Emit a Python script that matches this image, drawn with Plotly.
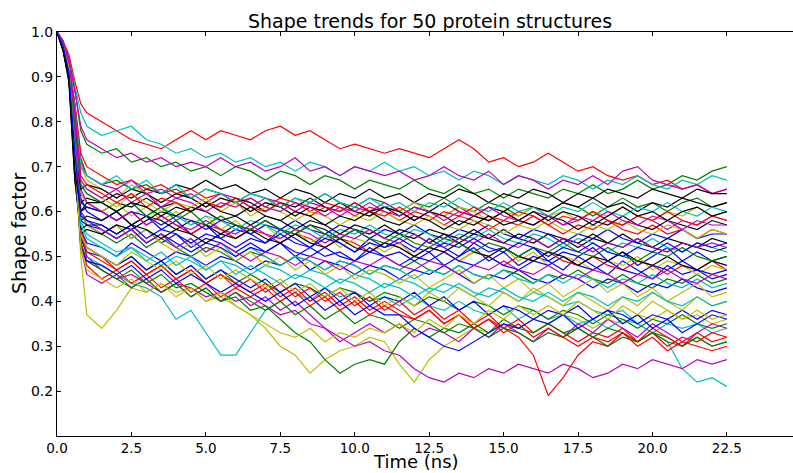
import plotly.graph_objects as go

# Time axis (ns) shared by all structures
time_ns = [0, 0.2, 0.4, 0.6, 0.8, 1.0, 1.5, 2.0, 2.5, 3.0, 3.5, 4.0, 4.5, 5.0, 5.5, 6.0,
           6.5, 7.0, 7.5, 8.0, 8.5, 9.0, 9.5, 10.0, 10.5, 11.0, 11.5, 12.0, 12.5, 13.0,
           13.5, 14.0, 14.5, 15.0, 15.5, 16.0, 16.5, 17.0, 17.5, 18.0, 18.5, 19.0, 19.5,
           20.0, 20.5, 21.0, 21.5, 22.0, 22.5]

blue_1 = [1.0, 0.97, 0.92, 0.78, 0.63, 0.60,
          0.58, 0.60, 0.57, 0.59, 0.56, 0.58, 0.55, 0.57, 0.54, 0.56,
          0.55, 0.53, 0.56, 0.54, 0.52, 0.55, 0.53, 0.51, 0.54, 0.52,
          0.53, 0.51, 0.54, 0.52, 0.50, 0.53, 0.51, 0.52, 0.50, 0.52,
          0.49, 0.51, 0.50, 0.52, 0.49, 0.51, 0.48, 0.50, 0.52, 0.49,
          0.51, 0.49, 0.50]
green_1 = [1.0, 0.98, 0.94, 0.87, 0.78, 0.75,
           0.73, 0.74, 0.71, 0.72, 0.70, 0.71, 0.69, 0.70, 0.68, 0.70,
           0.69, 0.67, 0.69, 0.68, 0.66, 0.68, 0.67, 0.65, 0.67, 0.66,
           0.65, 0.67, 0.65, 0.64, 0.66, 0.64, 0.65, 0.63, 0.65, 0.64,
           0.63, 0.65, 0.64, 0.66, 0.64, 0.65, 0.67, 0.65, 0.66, 0.68,
           0.67, 0.69, 0.70]
red_1 = [1.0, 0.98, 0.95, 0.89, 0.84, 0.82,
         0.80, 0.78, 0.76, 0.75, 0.74, 0.76, 0.78, 0.76, 0.78, 0.77,
         0.76, 0.78, 0.79, 0.77, 0.78, 0.76, 0.74, 0.75, 0.74, 0.73,
         0.74, 0.73, 0.72, 0.74, 0.76, 0.74, 0.71, 0.72, 0.70, 0.71,
         0.73, 0.71, 0.69, 0.70, 0.68, 0.67, 0.68, 0.66, 0.67, 0.65,
         0.66, 0.64, 0.65]
cyan_1 = [1.0, 0.98, 0.94, 0.88, 0.82, 0.79,
          0.77, 0.78, 0.79, 0.76, 0.75, 0.73, 0.74, 0.72, 0.73, 0.71,
          0.72, 0.70, 0.71, 0.69, 0.71, 0.70, 0.68, 0.70, 0.69, 0.71,
          0.69, 0.70, 0.68, 0.69, 0.67, 0.69, 0.68, 0.66, 0.68, 0.67,
          0.66, 0.68, 0.67, 0.65, 0.67, 0.66, 0.68, 0.66, 0.65, 0.67,
          0.66, 0.68, 0.67]
magenta_1 = [1.0, 0.98, 0.94, 0.87, 0.79, 0.76,
             0.74, 0.72, 0.73, 0.71, 0.72, 0.70, 0.71, 0.70, 0.72, 0.70,
             0.71, 0.69, 0.70, 0.72, 0.69, 0.70, 0.68, 0.70, 0.69, 0.68,
             0.69, 0.67, 0.68, 0.70, 0.68, 0.67, 0.69, 0.66, 0.68, 0.67,
             0.65, 0.67, 0.66, 0.68, 0.66, 0.69, 0.70, 0.67, 0.66, 0.65,
             0.66, 0.64, 0.65]
yellow_1 = [1.0, 0.96, 0.90, 0.72, 0.50, 0.37,
            0.34, 0.38, 0.43, 0.42, 0.44, 0.42, 0.43, 0.40, 0.41, 0.39,
            0.37, 0.34, 0.30, 0.28, 0.24, 0.27, 0.29, 0.30, 0.32, 0.31,
            0.26, 0.22, 0.27, 0.30, 0.32, 0.34, 0.33, 0.35, 0.34, 0.36,
            0.35, 0.37, 0.36, 0.34, 0.36, 0.35, 0.37, 0.36, 0.38, 0.36,
            0.37, 0.35, 0.36]
black_1 = [1.0, 0.97, 0.91, 0.72, 0.62, 0.63,
           0.62, 0.64, 0.63, 0.65, 0.64, 0.66, 0.65, 0.67, 0.65, 0.66,
           0.64, 0.65, 0.63, 0.65, 0.64, 0.62, 0.64, 0.63, 0.65, 0.63,
           0.64, 0.62, 0.64, 0.63, 0.65, 0.64, 0.62, 0.64, 0.63, 0.65,
           0.64, 0.62, 0.64, 0.63, 0.65, 0.64, 0.63, 0.65, 0.64, 0.63,
           0.65, 0.64, 0.64]

blue_2 = [1.0, 0.97, 0.92, 0.76, 0.60, 0.57,
          0.55, 0.57, 0.54, 0.56, 0.53, 0.55, 0.52, 0.54, 0.53, 0.51,
          0.53, 0.51, 0.53, 0.50, 0.52, 0.50, 0.51, 0.49, 0.52, 0.50,
          0.51, 0.49, 0.51, 0.48, 0.50, 0.52, 0.49, 0.51, 0.48, 0.50,
          0.49, 0.47, 0.50, 0.48, 0.46, 0.49, 0.47, 0.45, 0.48, 0.46,
          0.47, 0.45, 0.46]
green_2 = [1.0, 0.97, 0.93, 0.84, 0.72, 0.68,
           0.66, 0.67, 0.65, 0.66, 0.64, 0.65, 0.63, 0.65, 0.64, 0.62,
           0.64, 0.63, 0.61, 0.63, 0.62, 0.64, 0.62, 0.61, 0.63, 0.62,
           0.60, 0.62, 0.61, 0.63, 0.61, 0.60, 0.62, 0.61, 0.59, 0.61,
           0.60, 0.62, 0.61, 0.59, 0.61, 0.63, 0.61, 0.62, 0.60, 0.62,
           0.63, 0.61, 0.62]
red_2 = [1.0, 0.98, 0.93, 0.84, 0.73, 0.70,
         0.68, 0.66, 0.67, 0.65, 0.66, 0.64, 0.65, 0.63, 0.64, 0.62,
         0.63, 0.61, 0.63, 0.62, 0.60, 0.62, 0.61, 0.59, 0.61, 0.60,
         0.58, 0.60, 0.59, 0.57, 0.59, 0.58, 0.56, 0.58, 0.57, 0.59,
         0.57, 0.55, 0.57, 0.56, 0.58, 0.56, 0.55, 0.57, 0.55, 0.56,
         0.54, 0.56, 0.55]
cyan_2 = [1.0, 0.97, 0.92, 0.74, 0.55, 0.50,
          0.48, 0.46, 0.44, 0.43, 0.41, 0.36, 0.38, 0.33, 0.28, 0.28,
          0.33, 0.38, 0.40, 0.42, 0.40, 0.43, 0.41, 0.42, 0.40, 0.41,
          0.39, 0.41, 0.39, 0.38, 0.40, 0.38, 0.37, 0.39, 0.36, 0.38,
          0.36, 0.37, 0.35, 0.36, 0.34, 0.36, 0.35, 0.33, 0.35, 0.34,
          0.35, 0.33, 0.34]
magenta_2 = [1.0, 0.98, 0.93, 0.83, 0.71, 0.68,
             0.66, 0.65, 0.67, 0.64, 0.65, 0.63, 0.64, 0.62, 0.64, 0.63,
             0.61, 0.63, 0.62, 0.60, 0.62, 0.61, 0.59, 0.61, 0.60, 0.62,
             0.60, 0.58, 0.60, 0.59, 0.61, 0.59, 0.58, 0.60, 0.58, 0.57,
             0.59, 0.57, 0.58, 0.60, 0.58, 0.57, 0.59, 0.58, 0.56, 0.58,
             0.57, 0.59, 0.58]
yellow_2 = [1.0, 0.97, 0.93, 0.82, 0.70, 0.67,
            0.65, 0.63, 0.66, 0.64, 0.62, 0.64, 0.63, 0.61, 0.63, 0.62,
            0.60, 0.62, 0.61, 0.63, 0.61, 0.60, 0.62, 0.60, 0.59, 0.61,
            0.60, 0.62, 0.60, 0.59, 0.61, 0.60, 0.58, 0.60, 0.59, 0.61,
            0.59, 0.60, 0.58, 0.60, 0.59, 0.61, 0.59, 0.58, 0.60, 0.59,
            0.61, 0.59, 0.60]
black_2 = [1.0, 0.97, 0.90, 0.70, 0.60, 0.61,
           0.60, 0.62, 0.61, 0.63, 0.61, 0.62, 0.60, 0.62, 0.61, 0.63,
           0.62, 0.60, 0.62, 0.61, 0.63, 0.61, 0.60, 0.62, 0.60, 0.61,
           0.59, 0.61, 0.60, 0.62, 0.60, 0.59, 0.61, 0.60, 0.62, 0.61,
           0.60, 0.62, 0.61, 0.63, 0.61, 0.62, 0.60, 0.62, 0.61, 0.63,
           0.62, 0.61, 0.62]

blue_3 = [1.0, 0.97, 0.92, 0.74, 0.56, 0.53,
          0.52, 0.50, 0.53, 0.51, 0.49, 0.51, 0.50, 0.48, 0.50, 0.49,
          0.47, 0.49, 0.48, 0.50, 0.47, 0.49, 0.48, 0.46, 0.48, 0.47,
          0.45, 0.47, 0.46, 0.48, 0.46, 0.44, 0.46, 0.45, 0.47, 0.45,
          0.44, 0.46, 0.45, 0.43, 0.45, 0.44, 0.42, 0.44, 0.43, 0.45,
          0.43, 0.42, 0.43]
green_3 = [1.0, 0.97, 0.92, 0.77, 0.60, 0.57,
           0.55, 0.53, 0.55, 0.52, 0.54, 0.52, 0.50, 0.52, 0.51, 0.49,
           0.51, 0.50, 0.48, 0.50, 0.49, 0.47, 0.49, 0.48, 0.46, 0.48,
           0.47, 0.49, 0.47, 0.46, 0.48, 0.46, 0.45, 0.47, 0.46, 0.44,
           0.46, 0.45, 0.47, 0.45, 0.44, 0.46, 0.44, 0.43, 0.45, 0.44,
           0.46, 0.44, 0.45]
red_3 = [1.0, 0.98, 0.93, 0.80, 0.64, 0.62,
         0.60, 0.58, 0.60, 0.57, 0.59, 0.57, 0.55, 0.57, 0.56, 0.54,
         0.56, 0.55, 0.53, 0.55, 0.54, 0.52, 0.54, 0.53, 0.51, 0.53,
         0.52, 0.50, 0.52, 0.51, 0.49, 0.51, 0.50, 0.48, 0.50, 0.49,
         0.51, 0.49, 0.48, 0.50, 0.48, 0.47, 0.49, 0.48, 0.46, 0.48,
         0.47, 0.49, 0.47]
cyan_3 = [1.0, 0.97, 0.92, 0.76, 0.58, 0.55,
          0.53, 0.51, 0.52, 0.50, 0.48, 0.50, 0.49, 0.47, 0.49, 0.48,
          0.46, 0.48, 0.47, 0.45, 0.47, 0.46, 0.44, 0.46, 0.45, 0.43,
          0.45, 0.44, 0.42, 0.44, 0.43, 0.41, 0.43, 0.42, 0.40, 0.42,
          0.41, 0.39, 0.40, 0.38, 0.37, 0.38, 0.35, 0.33, 0.31, 0.25,
          0.22, 0.23, 0.21]
magenta_3 = [1.0, 0.97, 0.92, 0.74, 0.55, 0.50,
             0.47, 0.45, 0.46, 0.44, 0.42, 0.44, 0.43, 0.41, 0.42, 0.40,
             0.41, 0.39, 0.37, 0.38, 0.35, 0.34, 0.32, 0.30, 0.31, 0.29,
             0.28, 0.25, 0.23, 0.22, 0.24, 0.23, 0.25, 0.24, 0.26, 0.25,
             0.24, 0.26, 0.25, 0.23, 0.24, 0.26, 0.25, 0.27, 0.26, 0.25,
             0.27, 0.26, 0.27]
yellow_3 = [1.0, 0.97, 0.93, 0.80, 0.64, 0.62,
            0.60, 0.62, 0.59, 0.61, 0.58, 0.60, 0.57, 0.59, 0.56, 0.58,
            0.55, 0.57, 0.54, 0.56, 0.53, 0.55, 0.52, 0.54, 0.53, 0.51,
            0.53, 0.50, 0.52, 0.51, 0.49, 0.51, 0.50, 0.52, 0.49, 0.51,
            0.48, 0.50, 0.49, 0.47, 0.49, 0.48, 0.50, 0.47, 0.49, 0.48,
            0.46, 0.48, 0.47]
black_3 = [1.0, 0.97, 0.90, 0.69, 0.58, 0.59,
           0.58, 0.60, 0.57, 0.59, 0.58, 0.56, 0.58, 0.57, 0.55, 0.57,
           0.56, 0.58, 0.56, 0.55, 0.57, 0.56, 0.54, 0.56, 0.55, 0.57,
           0.55, 0.54, 0.56, 0.55, 0.53, 0.55, 0.54, 0.56, 0.54, 0.53,
           0.55, 0.54, 0.52, 0.54, 0.53, 0.55, 0.53, 0.52, 0.54, 0.53,
           0.52, 0.54, 0.53]

blue_4 = [1.0, 0.97, 0.91, 0.74, 0.62, 0.61,
          0.60, 0.58, 0.60, 0.59, 0.57, 0.59, 0.58, 0.56, 0.58, 0.57,
          0.55, 0.57, 0.56, 0.58, 0.56, 0.55, 0.57, 0.56, 0.54, 0.56,
          0.55, 0.57, 0.55, 0.54, 0.56, 0.55, 0.57, 0.55, 0.54, 0.56,
          0.55, 0.53, 0.55, 0.54, 0.56, 0.54, 0.53, 0.55, 0.54, 0.56,
          0.54, 0.55, 0.55]
green_4 = [1.0, 0.97, 0.92, 0.74, 0.55, 0.52,
           0.50, 0.48, 0.50, 0.47, 0.49, 0.46, 0.48, 0.45, 0.47, 0.44,
           0.46, 0.44, 0.42, 0.44, 0.43, 0.41, 0.43, 0.42, 0.40, 0.42,
           0.41, 0.39, 0.41, 0.40, 0.38, 0.40, 0.39, 0.37, 0.39, 0.38,
           0.36, 0.38, 0.37, 0.35, 0.37, 0.36, 0.34, 0.36, 0.35, 0.37,
           0.35, 0.34, 0.35]
red_4 = [1.0, 0.97, 0.92, 0.75, 0.56, 0.52,
         0.50, 0.47, 0.49, 0.46, 0.48, 0.45, 0.47, 0.44, 0.46, 0.44,
         0.42, 0.44, 0.41, 0.43, 0.40, 0.42, 0.39, 0.41, 0.38, 0.40,
         0.38, 0.36, 0.38, 0.35, 0.37, 0.34, 0.36, 0.34, 0.36, 0.33,
         0.35, 0.33, 0.31, 0.33, 0.32, 0.34, 0.31, 0.33, 0.30, 0.32,
         0.31, 0.33, 0.32]
cyan_4 = [1.0, 0.98, 0.93, 0.81, 0.66, 0.64,
          0.62, 0.60, 0.62, 0.59, 0.61, 0.59, 0.57, 0.59, 0.58, 0.56,
          0.58, 0.57, 0.55, 0.57, 0.56, 0.54, 0.56, 0.55, 0.57, 0.55,
          0.54, 0.56, 0.55, 0.53, 0.55, 0.54, 0.56, 0.54, 0.53, 0.55,
          0.54, 0.52, 0.54, 0.53, 0.51, 0.53, 0.52, 0.54, 0.52, 0.51,
          0.53, 0.52, 0.51]
magenta_4 = [1.0, 0.97, 0.92, 0.73, 0.52, 0.46,
             0.44, 0.46, 0.43, 0.45, 0.42, 0.44, 0.41, 0.43, 0.40, 0.42,
             0.39, 0.41, 0.38, 0.40, 0.37, 0.34, 0.31, 0.33, 0.35, 0.33,
             0.35, 0.32, 0.34, 0.33, 0.31, 0.34, 0.32, 0.35, 0.33, 0.31,
             0.34, 0.32, 0.35, 0.33, 0.36, 0.34, 0.32, 0.35, 0.33, 0.31,
             0.33, 0.35, 0.34]
yellow_4 = [1.0, 0.97, 0.92, 0.77, 0.60, 0.57,
            0.55, 0.57, 0.54, 0.56, 0.53, 0.51, 0.53, 0.50, 0.52, 0.49,
            0.51, 0.48, 0.50, 0.47, 0.49, 0.46, 0.48, 0.45, 0.47, 0.46,
            0.44, 0.46, 0.43, 0.45, 0.47, 0.44, 0.46, 0.43, 0.45, 0.42,
            0.44, 0.41, 0.43, 0.45, 0.42, 0.44, 0.41, 0.43, 0.40, 0.42,
            0.44, 0.41, 0.42]
black_4 = [1.0, 0.96, 0.89, 0.67, 0.55, 0.56,
           0.55, 0.57, 0.56, 0.58, 0.60, 0.59, 0.61, 0.60, 0.58, 0.59,
           0.57, 0.59, 0.58, 0.56, 0.58, 0.57, 0.55, 0.57, 0.56, 0.54,
           0.56, 0.55, 0.53, 0.55, 0.54, 0.56, 0.54, 0.53, 0.55, 0.54,
           0.52, 0.54, 0.53, 0.55, 0.53, 0.52, 0.54, 0.52, 0.51, 0.53,
           0.52, 0.51, 0.52]

blue_5 = [1.0, 0.97, 0.92, 0.73, 0.54, 0.51,
          0.50, 0.48, 0.50, 0.47, 0.49, 0.46, 0.48, 0.45, 0.47, 0.45,
          0.43, 0.45, 0.42, 0.44, 0.41, 0.43, 0.40, 0.42, 0.39, 0.41,
          0.40, 0.42, 0.39, 0.41, 0.38, 0.40, 0.37, 0.39, 0.38, 0.36,
          0.38, 0.37, 0.39, 0.36, 0.38, 0.37, 0.35, 0.37, 0.36, 0.38,
          0.36, 0.38, 0.37]
green_5 = [1.0, 0.97, 0.92, 0.73, 0.53, 0.49,
           0.47, 0.45, 0.47, 0.44, 0.46, 0.43, 0.44, 0.42, 0.40, 0.41,
           0.38, 0.39, 0.36, 0.33, 0.31, 0.27, 0.24, 0.26, 0.27, 0.26,
           0.31, 0.34, 0.32, 0.34, 0.33, 0.35, 0.33, 0.36, 0.34, 0.33,
           0.35, 0.33, 0.34, 0.32, 0.34, 0.33, 0.31, 0.33, 0.32, 0.30,
           0.32, 0.30, 0.31]
red_5 = [1.0, 0.97, 0.92, 0.74, 0.55, 0.51,
         0.49, 0.47, 0.49, 0.46, 0.48, 0.45, 0.47, 0.44, 0.46, 0.43,
         0.45, 0.42, 0.44, 0.41, 0.43, 0.40, 0.42, 0.39, 0.41, 0.38,
         0.40, 0.37, 0.39, 0.36, 0.38, 0.35, 0.37, 0.34, 0.32, 0.28,
         0.19, 0.23, 0.28, 0.31, 0.30, 0.33, 0.31, 0.34, 0.32, 0.30,
         0.33, 0.31, 0.32]
cyan_5 = [1.0, 0.97, 0.92, 0.77, 0.60, 0.58,
          0.56, 0.54, 0.56, 0.53, 0.55, 0.52, 0.54, 0.51, 0.53, 0.50,
          0.52, 0.50, 0.48, 0.50, 0.49, 0.47, 0.49, 0.48, 0.46, 0.48,
          0.47, 0.45, 0.47, 0.46, 0.48, 0.46, 0.45, 0.47, 0.45, 0.44,
          0.46, 0.44, 0.46, 0.45, 0.43, 0.45, 0.44, 0.46, 0.44, 0.43,
          0.45, 0.43, 0.44]
magenta_5 = [1.0, 0.98, 0.93, 0.80, 0.65, 0.62,
             0.60, 0.58, 0.60, 0.57, 0.59, 0.57, 0.56, 0.58, 0.56, 0.55,
             0.57, 0.55, 0.54, 0.56, 0.55, 0.53, 0.55, 0.54, 0.56, 0.54,
             0.53, 0.55, 0.53, 0.52, 0.54, 0.53, 0.55, 0.53, 0.52, 0.54,
             0.52, 0.54, 0.53, 0.51, 0.53, 0.52, 0.54, 0.52, 0.51, 0.53,
             0.52, 0.53, 0.52]
yellow_5 = [1.0, 0.97, 0.92, 0.74, 0.55, 0.52,
            0.50, 0.48, 0.51, 0.49, 0.47, 0.49, 0.46, 0.48, 0.45, 0.47,
            0.45, 0.43, 0.45, 0.42, 0.44, 0.41, 0.43, 0.40, 0.42, 0.39,
            0.41, 0.39, 0.42, 0.40, 0.43, 0.41, 0.39, 0.42, 0.40, 0.43,
            0.41, 0.39, 0.42, 0.40, 0.38, 0.41, 0.39, 0.42, 0.40, 0.38,
            0.41, 0.39, 0.40]
black_5 = [1.0, 0.97, 0.91, 0.73, 0.65, 0.66,
           0.65, 0.63, 0.65, 0.64, 0.62, 0.64, 0.63, 0.61, 0.63, 0.62,
           0.60, 0.62, 0.61, 0.59, 0.61, 0.60, 0.62, 0.60, 0.59, 0.61,
           0.60, 0.58, 0.60, 0.59, 0.57, 0.59, 0.58, 0.60, 0.58, 0.57,
           0.59, 0.58, 0.56, 0.58, 0.57, 0.59, 0.57, 0.56, 0.58, 0.57,
           0.56, 0.58, 0.57]

blue_6 = [1.0, 0.97, 0.91, 0.72, 0.58, 0.57,
          0.56, 0.54, 0.56, 0.53, 0.55, 0.53, 0.51, 0.53, 0.52, 0.50,
          0.52, 0.51, 0.53, 0.51, 0.50, 0.52, 0.50, 0.49, 0.51, 0.50,
          0.48, 0.50, 0.49, 0.51, 0.49, 0.48, 0.50, 0.48, 0.47, 0.49,
          0.48, 0.50, 0.48, 0.47, 0.49, 0.47, 0.46, 0.48, 0.47, 0.49,
          0.47, 0.46, 0.47]
green_6 = [1.0, 0.97, 0.92, 0.73, 0.53, 0.49,
           0.47, 0.45, 0.43, 0.45, 0.42, 0.44, 0.41, 0.43, 0.40, 0.42,
           0.40, 0.38, 0.40, 0.37, 0.39, 0.36, 0.38, 0.35, 0.37, 0.36,
           0.34, 0.36, 0.35, 0.33, 0.35, 0.34, 0.32, 0.34, 0.33, 0.31,
           0.33, 0.32, 0.34, 0.32, 0.30, 0.32, 0.31, 0.33, 0.31, 0.30,
           0.32, 0.30, 0.31]
red_6 = [1.0, 0.97, 0.92, 0.74, 0.53, 0.48,
         0.45, 0.47, 0.44, 0.46, 0.43, 0.45, 0.42, 0.44, 0.41, 0.43,
         0.41, 0.43, 0.40, 0.42, 0.39, 0.41, 0.38, 0.40, 0.37, 0.39,
         0.37, 0.36, 0.38, 0.35, 0.37, 0.34, 0.36, 0.33, 0.35, 0.32,
         0.34, 0.32, 0.30, 0.32, 0.31, 0.33, 0.30, 0.32, 0.29, 0.31,
         0.30, 0.29, 0.30]
cyan_6 = [1.0, 0.98, 0.93, 0.83, 0.70, 0.68,
          0.66, 0.68, 0.65, 0.67, 0.64, 0.66, 0.63, 0.65, 0.64, 0.62,
          0.64, 0.63, 0.61, 0.63, 0.62, 0.64, 0.62, 0.61, 0.63, 0.61,
          0.62, 0.60, 0.62, 0.61, 0.63, 0.61, 0.60, 0.62, 0.60, 0.61,
          0.59, 0.61, 0.60, 0.62, 0.60, 0.59, 0.61, 0.60, 0.62, 0.60,
          0.59, 0.61, 0.60]
magenta_6 = [1.0, 0.97, 0.92, 0.77, 0.60, 0.58,
             0.56, 0.54, 0.56, 0.53, 0.55, 0.52, 0.54, 0.51, 0.53, 0.51,
             0.49, 0.51, 0.50, 0.48, 0.50, 0.49, 0.47, 0.49, 0.48, 0.50,
             0.48, 0.47, 0.49, 0.48, 0.46, 0.48, 0.47, 0.49, 0.47, 0.46,
             0.48, 0.46, 0.45, 0.47, 0.46, 0.44, 0.46, 0.45, 0.47, 0.45,
             0.44, 0.46, 0.45]
yellow_6 = [1.0, 0.97, 0.93, 0.81, 0.67, 0.65,
            0.63, 0.61, 0.64, 0.62, 0.60, 0.62, 0.61, 0.63, 0.60, 0.62,
            0.59, 0.61, 0.60, 0.58, 0.60, 0.59, 0.57, 0.59, 0.58, 0.60,
            0.58, 0.57, 0.59, 0.57, 0.56, 0.58, 0.57, 0.55, 0.57, 0.56,
            0.58, 0.56, 0.55, 0.57, 0.56, 0.58, 0.56, 0.55, 0.57, 0.56,
            0.54, 0.56, 0.55]
black_6 = [1.0, 0.96, 0.89, 0.67, 0.56, 0.57,
           0.57, 0.55, 0.57, 0.56, 0.54, 0.56, 0.55, 0.53, 0.55, 0.54,
           0.56, 0.54, 0.53, 0.55, 0.53, 0.52, 0.54, 0.52, 0.51, 0.53,
           0.52, 0.50, 0.52, 0.51, 0.53, 0.51, 0.50, 0.52, 0.50, 0.49,
           0.51, 0.50, 0.48, 0.50, 0.49, 0.51, 0.49, 0.48, 0.50, 0.48,
           0.47, 0.49, 0.48]

blue_7 = [1.0, 0.97, 0.92, 0.73, 0.52, 0.49,
          0.48, 0.46, 0.48, 0.45, 0.47, 0.44, 0.46, 0.44, 0.42, 0.44,
          0.42, 0.40, 0.42, 0.39, 0.41, 0.38, 0.40, 0.37, 0.39, 0.37,
          0.37, 0.34, 0.32, 0.30, 0.29, 0.31, 0.33, 0.35, 0.34, 0.36,
          0.35, 0.37, 0.34, 0.36, 0.38, 0.35, 0.37, 0.34, 0.36, 0.33,
          0.35, 0.37, 0.36]
green_7 = [1.0, 0.97, 0.93, 0.80, 0.66, 0.64,
           0.62, 0.60, 0.62, 0.59, 0.61, 0.58, 0.60, 0.57, 0.59, 0.57,
           0.56, 0.58, 0.56, 0.55, 0.57, 0.55, 0.54, 0.56, 0.54, 0.53,
           0.55, 0.53, 0.52, 0.54, 0.53, 0.51, 0.53, 0.52, 0.50, 0.52,
           0.51, 0.53, 0.51, 0.50, 0.52, 0.50, 0.49, 0.51, 0.50, 0.52,
           0.50, 0.49, 0.50]
red_7 = [1.0, 0.98, 0.93, 0.82, 0.68, 0.66,
         0.64, 0.62, 0.64, 0.61, 0.63, 0.62, 0.60, 0.62, 0.61, 0.63,
         0.61, 0.60, 0.62, 0.60, 0.59, 0.61, 0.60, 0.62, 0.60, 0.59,
         0.61, 0.59, 0.58, 0.60, 0.59, 0.61, 0.59, 0.58, 0.60, 0.59,
         0.57, 0.59, 0.58, 0.60, 0.58, 0.57, 0.59, 0.58, 0.60, 0.58,
         0.57, 0.59, 0.58]
cyan_7 = [1.0, 0.97, 0.92, 0.75, 0.57, 0.54,
          0.52, 0.50, 0.52, 0.49, 0.51, 0.48, 0.50, 0.47, 0.49, 0.46,
          0.48, 0.46, 0.44, 0.46, 0.45, 0.43, 0.45, 0.44, 0.42, 0.44,
          0.43, 0.41, 0.43, 0.42, 0.44, 0.42, 0.41, 0.43, 0.41, 0.40,
          0.42, 0.40, 0.42, 0.41, 0.39, 0.41, 0.40, 0.42, 0.40, 0.39,
          0.41, 0.39, 0.40]
magenta_7 = [1.0, 0.98, 0.93, 0.82, 0.67, 0.65,
             0.63, 0.65, 0.62, 0.64, 0.61, 0.63, 0.62, 0.60, 0.62, 0.61,
             0.63, 0.61, 0.60, 0.62, 0.61, 0.59, 0.61, 0.60, 0.62, 0.60,
             0.59, 0.61, 0.60, 0.58, 0.60, 0.59, 0.61, 0.59, 0.58, 0.60,
             0.59, 0.57, 0.59, 0.58, 0.60, 0.58, 0.57, 0.59, 0.58, 0.56,
             0.58, 0.57, 0.57]
yellow_7 = [1.0, 0.97, 0.92, 0.73, 0.52, 0.47,
            0.45, 0.43, 0.45, 0.42, 0.44, 0.41, 0.43, 0.40, 0.42, 0.39,
            0.37, 0.35, 0.33, 0.32, 0.34, 0.31, 0.33, 0.32, 0.34, 0.33,
            0.35, 0.33, 0.36, 0.34, 0.37, 0.35, 0.38, 0.36, 0.39, 0.37,
            0.39, 0.37, 0.40, 0.38, 0.36, 0.39, 0.37, 0.40, 0.38, 0.36,
            0.38, 0.36, 0.37]
black_7 = [1.0, 0.96, 0.90, 0.69, 0.60, 0.62,
           0.62, 0.60, 0.62, 0.61, 0.59, 0.61, 0.60, 0.62, 0.60, 0.59,
           0.61, 0.59, 0.58, 0.60, 0.59, 0.57, 0.59, 0.58, 0.60, 0.58,
           0.57, 0.59, 0.58, 0.56, 0.58, 0.57, 0.59, 0.57, 0.58, 0.60,
           0.58, 0.60, 0.59, 0.57, 0.59, 0.61, 0.59, 0.60, 0.58, 0.60,
           0.61, 0.59, 0.60]

blue_8 = [1.0, 0.97, 0.91, 0.73, 0.59, 0.58,
          0.57, 0.55, 0.57, 0.54, 0.56, 0.55, 0.53, 0.55, 0.54, 0.52,
          0.54, 0.53, 0.55, 0.53, 0.52, 0.54, 0.53, 0.51, 0.53, 0.52,
          0.54, 0.52, 0.51, 0.53, 0.52, 0.54, 0.52, 0.51, 0.53, 0.52,
          0.50, 0.52, 0.51, 0.53, 0.51, 0.50, 0.52, 0.51, 0.53, 0.51,
          0.53, 0.52, 0.53]

# Drawing order (matplotlib classic colour cycle b, g, r, c, m, y, k)
structures = [
    blue_1, green_1, red_1, cyan_1, magenta_1, yellow_1, black_1,
    blue_2, green_2, red_2, cyan_2, magenta_2, yellow_2, black_2,
    blue_3, green_3, red_3, cyan_3, magenta_3, yellow_3, black_3,
    blue_4, green_4, red_4, cyan_4, magenta_4, yellow_4, black_4,
    blue_5, green_5, red_5, cyan_5, magenta_5, yellow_5, black_5,
    blue_6, green_6, red_6, cyan_6, magenta_6, yellow_6, black_6,
    blue_7, green_7, red_7, cyan_7, magenta_7, yellow_7, black_7,
    blue_8,
]
color_cycle = ["#0000ff", "#008000", "#ff0000", "#00bfbf", "#bf00bf", "#bfbf00", "#000000"]

for k, s in enumerate(structures):
    assert len(s) == len(time_ns), (k, len(s))

x_ticks = [0, 2.5, 5, 7.5, 10, 12.5, 15, 17.5, 20, 22.5]
y_ticks = [0.2, 0.3, 0.4, 0.5, 0.6, 0.7, 0.8, 0.9, 1.0]

fig = go.Figure()
for k, s in enumerate(structures):
    fig.add_trace(go.Scatter(
        x=time_ns, y=s, mode="lines",
        line=dict(color=color_cycle[k % 7], width=1.2),
        showlegend=False, hoverinfo="skip",
    ))

W, H = 793, 473
ML, MR, MT, MB = 57, 0, 32, 37
plot_w, plot_h = W - ML - MR, H - MT - MB

font_family = "DejaVu Sans"
fig.update_layout(
    width=W, height=H,
    margin=dict(l=ML, r=MR, t=MT, b=MB, autoexpand=False),
    paper_bgcolor="white", plot_bgcolor="white",
    font=dict(family=font_family, color="black", size=14),
    title=dict(text="Shape trends for 50 protein structures",
               x=430 / W, xanchor="center", xref="container",
               y=1 - 21 / H, yanchor="middle", yref="container",
               font=dict(size=19, family=font_family, color="black")),
    annotations=[
        dict(text="Time (ns)", xref="paper", yref="paper",
             x=(416 - ML) / plot_w, y=-(H - (H - MB)) / plot_h,
             xanchor="center", yanchor="bottom", showarrow=False, borderpad=0,
             font=dict(size=18, family=font_family, color="black")),
        dict(text="Shape factor", xref="paper", yref="paper",
             x=-(ML - 19) / plot_w, y=0.5, textangle=-90,
             xanchor="center", yanchor="middle", showarrow=False,
             font=dict(size=19, family=font_family, color="black")),
    ],
)
fig.update_xaxes(
    range=[0, 24.72], tickvals=x_ticks, ticktext=[f"{v:.1f}" for v in x_ticks],
    ticks="inside", ticklen=4, tickcolor="black",
    showline=True, linecolor="black", linewidth=1, mirror="ticks",
    showgrid=False, zeroline=False,
    tickfont=dict(size=13.5, family=font_family),
)
fig.update_yaxes(
    range=[0.1, 1.0], tickvals=y_ticks, ticktext=[f"{v:.1f}" for v in y_ticks],
    ticks="inside", ticklen=4, tickcolor="black",
    showline=True, linecolor="black", linewidth=1, mirror=False,
    showgrid=False, zeroline=False,
    tickfont=dict(size=14, family=font_family),
)

fig.write_html("out.html")
